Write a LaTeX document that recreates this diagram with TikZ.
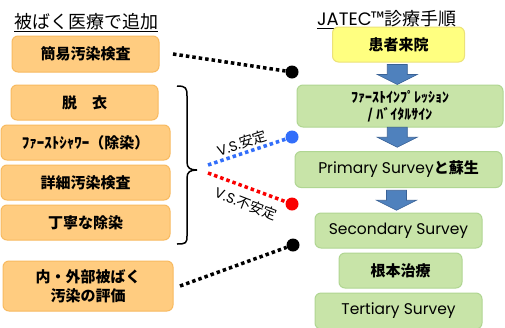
\documentclass[tikz,border=0pt]{standalone}
\usepackage{fontspec}
\setmainfont{Noto Sans CJK JP}
\newfontfamily\latf{Poppins}
\usetikzlibrary{calc}
\definecolor{orfill}{RGB}{255,204,128}
\definecolor{ordraw}{RGB}{248,186,96}
\definecolor{grfill}{RGB}{200,228,168}
\definecolor{grdraw}{RGB}{176,214,146}
\definecolor{ylfill}{RGB}{255,255,128}
\definecolor{yldraw}{RGB}{236,226,120}
\definecolor{arfill}{RGB}{79,129,189}
\definecolor{ardraw}{RGB}{58,98,150}
\definecolor{dotblue}{RGB}{50,110,250}
\definecolor{dotred}{RGB}{250,0,0}
\tikzset{
  downarr/.pic={\filldraw[fill=arfill, draw=ardraw, line width=0.6pt]
    (-10,-10) -- (10,-10) -- (10,0) -- (20,0) -- (0,10) -- (-20,0) -- (-10,0) -- cycle;}
}
\begin{document}
\begin{tikzpicture}[x=1pt,y=-1pt,
  obox/.style={draw=ordraw, fill=orfill, line width=1pt, rounded corners=6pt, inner sep=0pt, align=center, font=\bfseries\fontsize{15}{19}\selectfont},
  gbox/.style={obox, draw=grdraw, fill=grfill},
  ybox/.style={obox, draw=yldraw, fill=ylfill},
  dotline/.style={line width=3.5pt, dash pattern=on 3.5pt off 3pt},
  bigdot/.style={circle, fill=black, inner sep=0pt, minimum size=13pt},
  vslabel/.style={font=\fontsize{14}{16}\selectfont, inner sep=0pt},
  title/.style={font=\fontsize{18}{20}\selectfont, inner sep=0pt, anchor=base west}
]
\useasboundingbox[fill=white] (0,0) rectangle (505,327);

% titles
\node[title] (t1) at (14,28) {\underline{被ばく医療で追加}};
\node[title] (t2) at (317,25) {\underline{{\latf JATEC}™診療手順}};

% left boxes
\node[obox, minimum width=147pt, minimum height=36pt] (kani) at (85.5,54) {簡易汚染検査};
\node[obox, minimum width=147pt, minimum height=35pt] (datsui) at (84.5,102.5) {脱　衣};
\node[obox, minimum width=169pt, minimum height=35pt] (shower) at (85.5,142.5) {ﾌｧｰｽﾄｼｬﾜｰ（除染）};
\node[obox, minimum width=169pt, minimum height=35pt] (shosai) at (85.5,182.5) {詳細汚染検査};
\node[obox, minimum width=169pt, minimum height=35pt] (teinei) at (85.5,222.5) {丁寧な除染};
\node[obox, minimum width=170pt, minimum height=50pt] (hyoka) at (88,286) {内・外部被ばく\\汚染の評価};

% brace
\draw[line width=1.5pt] (177,86) .. controls (186,86) and (187,88) .. (187,96) -- (187,162)
  .. controls (187,168) and (190,170) .. (197,170)
  .. controls (190,170) and (187,172) .. (187,178) -- (187,236)
  .. controls (187,243) and (186,244) .. (177,244);

% right boxes
\node[ybox, minimum width=132pt, minimum height=35pt] (raiin) at (398.5,44.5) {患者来院};
\node[gbox, minimum width=206pt, minimum height=42pt, font=\bfseries\fontsize{14}{17}\selectfont] (first) at (400,106) {ﾌｧｰｽﾄｲﾝﾌﾟﾚｯｼｮﾝ\\/ ﾊﾞｲﾀﾙｻｲﾝ};
\node[gbox, minimum width=207pt, minimum height=36pt] (primary) at (398.5,169.5) {{\latf\mdseries\fontsize{15.5}{19}\selectfont Primary Survey}と蘇生};
\node[gbox, minimum width=167pt, minimum height=35pt] (secondary) at (398.5,230.5) {{\latf\mdseries\fontsize{15.5}{19}\selectfont Secondary Survey}};
\node[gbox, minimum width=123pt, minimum height=35pt] (konpon) at (400.5,270.5) {根本治療};
\node[gbox, minimum width=167pt, minimum height=36pt] (tertiary) at (398.5,311) {{\latf\mdseries\fontsize{15.5}{19}\selectfont Tertiary Survey}};

% block arrows
\pic at ($(raiin.south)!0.5!(first.north)+(-2,1)$) {downarr};
\pic at ($(first.south)!0.5!(primary.north)+(-2,-2)$) {downarr};
\pic at ($(primary.south)!0.5!(secondary.north)+(-2,0)$) {downarr};

% dots
\node[bigdot] (d1) at (292,72) {};
\node[bigdot, fill=dotblue] (d2) at (292,137) {};
\node[bigdot, fill=dotred] (d3) at (292,204) {};
\node[bigdot] (d4) at (293,245) {};

\coordinate (s1) at (173,54);
\coordinate (s2) at (208,165);
\coordinate (s3) at (208,173);
\coordinate (s4) at (180,286);

\draw[dotline] (s1) -- (d1);
\draw[dotline, draw=dotblue] (s2) -- (d2);
\draw[dotline, draw=dotred] (s3) -- (d3);
\draw[dotline] (s4) -- (d4);

\node[vslabel, rotate=18] (l1) at (242,143) {{\latf V.S.}安定};
\node[vslabel, rotate=-21] (l2) at (246,203.5) {{\latf V.S.}不安定};
\end{tikzpicture}
\end{document}
